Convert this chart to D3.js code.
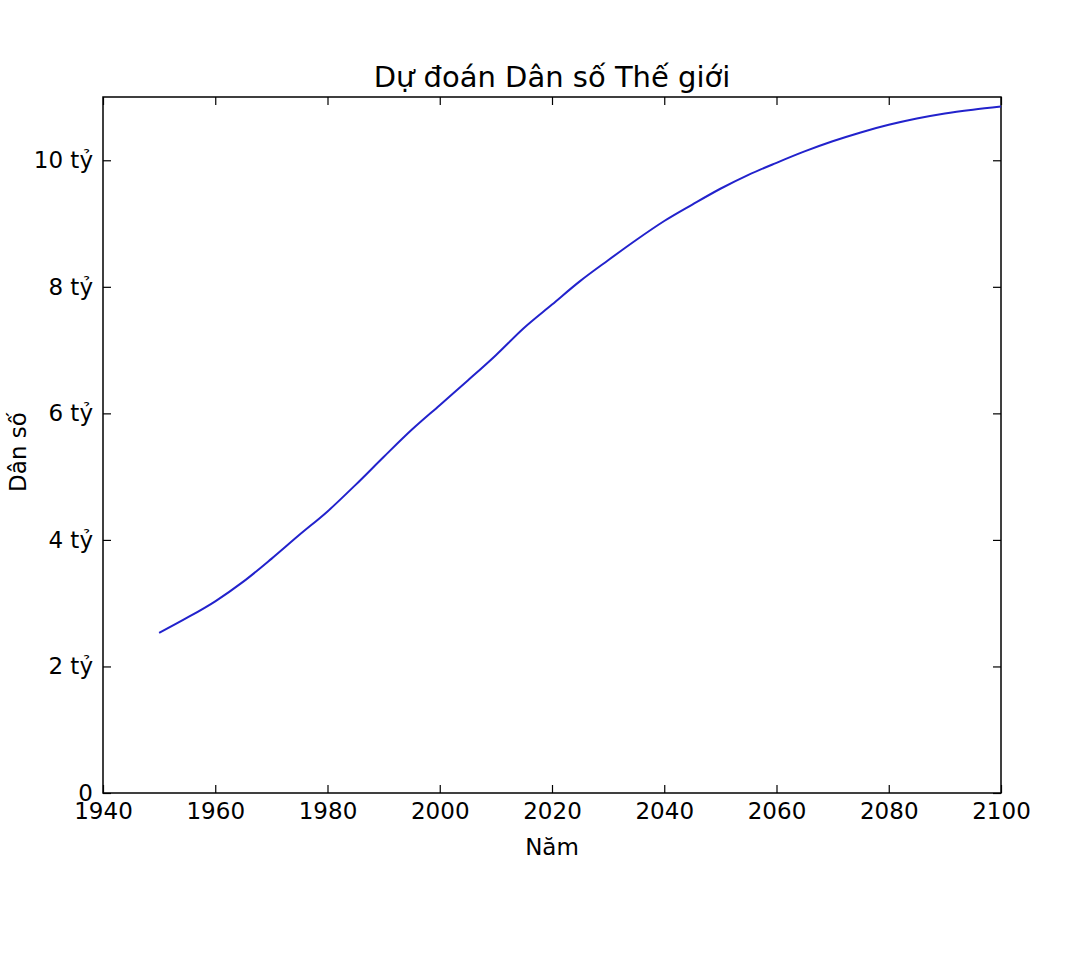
<html>
<head>
<script src="https://d3js.org/d3.v7.min.js"></script>
<style>
  body { margin: 0; background: #fff; }
  text { font-family: "DejaVu Sans", sans-serif; fill: #000; }
</style>
</head>
<body>
<div id="chart"></div>
<script>
// world population, billions
var years = [1950, 1955, 1960, 1965, 1970, 1975, 1980, 1985, 1990, 1995, 2000, 2005, 2010, 2015, 2020,
             2025, 2030, 2035, 2040, 2045, 2050, 2055, 2060, 2065, 2070, 2075, 2080, 2085, 2090, 2095, 2100];
var population = [2.53, 2.77, 3.03, 3.34, 3.70, 4.08, 4.45, 4.87, 5.31, 5.74, 6.13, 6.52, 6.92, 7.35, 7.72,
                  8.09, 8.42, 8.74, 9.04, 9.30, 9.55, 9.77, 9.96, 10.14, 10.30, 10.44, 10.56, 10.66, 10.74, 10.80, 10.85];
var xTicks = [1940, 1960, 1980, 2000, 2020, 2040, 2060, 2080, 2100];
var yTicks = [0, 2, 4, 6, 8, 10];
var yTickLabels = ["0", "2 tỷ", "4 tỷ", "6 tỷ", "8 tỷ", "10 tỷ"];

var margin = {top: 97, right: 87, bottom: 183, left: 103},
    width = 1088 - margin.left - margin.right,
    height = 976 - margin.top - margin.bottom;

var svg = d3.select("#chart").append("svg")
    .attr("width", 1088).attr("height", 976)
  .append("g")
    .attr("transform", "translate(" + margin.left + "," + margin.top + ")");

var x = d3.scaleLinear().domain([1940, 2100]).range([0, width]);
var y = d3.scaleLinear().domain([0, 11]).range([height, 0]);

function styleAxis(g) {
  g.select(".domain").remove();
  g.selectAll(".tick line").attr("stroke", "#000").attr("stroke-width", 1.2);
  g.selectAll(".tick text").style("font-size", "23px").style("font-family", "DejaVu Sans");
}

// bottom / left axes with inward ticks
svg.append("g").attr("transform", "translate(0," + height + ")")
  .call(d3.axisBottom(x).tickValues(xTicks).tickFormat(d3.format("d")).tickSizeInner(-8).tickPadding(10))
  .call(styleAxis);
svg.append("g")
  .call(d3.axisLeft(y).tickValues(yTicks).tickFormat(function(d, i) { return yTickLabels[i]; }).tickSizeInner(-8).tickPadding(10))
  .call(styleAxis);
// top / right ticks
svg.append("g")
  .call(d3.axisTop(x).tickValues(xTicks).tickSizeInner(-8).tickFormat(""))
  .call(styleAxis);
svg.append("g").attr("transform", "translate(" + width + ",0)")
  .call(d3.axisRight(y).tickValues(yTicks).tickSizeInner(-8).tickFormat(""))
  .call(styleAxis);

svg.append("rect").attr("width", width).attr("height", height)
  .attr("fill", "none").attr("stroke", "#000").attr("stroke-width", 1.5);

var line = d3.line()
  .x(function(d, i) { return x(years[i]); })
  .y(function(d) { return y(d); })
  .curve(d3.curveMonotoneX);

svg.append("path").datum(population)
  .attr("d", line).attr("fill", "none")
  .attr("stroke", "#2222cc").attr("stroke-width", 2);

svg.append("text").attr("x", width / 2).attr("y", -10)
  .attr("text-anchor", "middle").style("font-size", "29px")
  .text("Dự đoán Dân số Thế giới");

svg.append("text").attr("x", width / 2).attr("y", height + 62)
  .attr("text-anchor", "middle").style("font-size", "23px")
  .text("Năm");

svg.append("text").attr("transform", "rotate(-90)")
  .attr("x", -height / 2 - 7).attr("y", -77)
  .attr("text-anchor", "middle").style("font-size", "23px")
  .text("Dân số");
</script>
</body>
</html>
